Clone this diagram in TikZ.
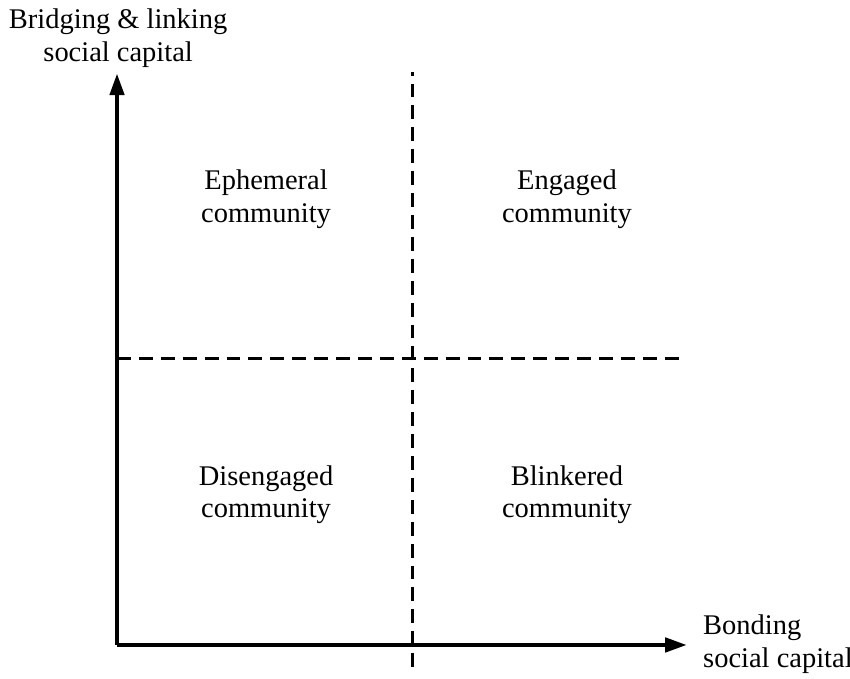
\documentclass[tikz,border=0pt]{standalone}
\usepackage{fontspec}
\setmainfont{Liberation Serif}
\usetikzlibrary{arrows.meta}

\tikzset{
	axis/.style={line width=2.3pt,-{Triangle[length=11pt,width=7pt]}},
	divider/.style={line width=1.5pt,dash pattern=on 7pt off 4pt},
	quadlabel/.style={align=center,font=\fontsize{14.3}{16.4}\selectfont},
}

\begin{document}
\begin{tikzpicture}

	\useasboundingbox (-2.065,-0.6) rectangle (12.935,11.382);

	\coordinate (o) at (0,0);
	\coordinate (xend) at (10.06,0);
	\coordinate (yend) at (0,10.09);
	\coordinate (vtop) at (5.21,10.11);
	\coordinate (vbot) at (5.21,-0.39);
	\coordinate (hleft) at (0,5.05);
	\coordinate (hright) at (9.94,5.05);

	\draw[divider] (vbot) -- (vtop);
	\draw[divider] (hleft) -- (hright);
	\draw[axis] (o) -- (xend);
	\draw[axis] (o) -- (yend);

	\node[quadlabel] (ephemeral) at (2.63,7.87) {Ephemeral\\community};
	\node[quadlabel] (engaged) at (7.94,7.87) {Engaged\\community};
	\node[quadlabel] (disengaged) at (2.63,2.65) {Disengaged\\community};
	\node[quadlabel] (blinkered) at (7.94,2.65) {Blinkered\\community};

	\node[quadlabel] (ylabel) at (0.02,10.71) {Bridging \& linking\\social capital};
	\node[quadlabel,anchor=west,align=left] (xlabel) at (10.22,0.01) {Bonding\\social capital};

\end{tikzpicture}
\end{document}
